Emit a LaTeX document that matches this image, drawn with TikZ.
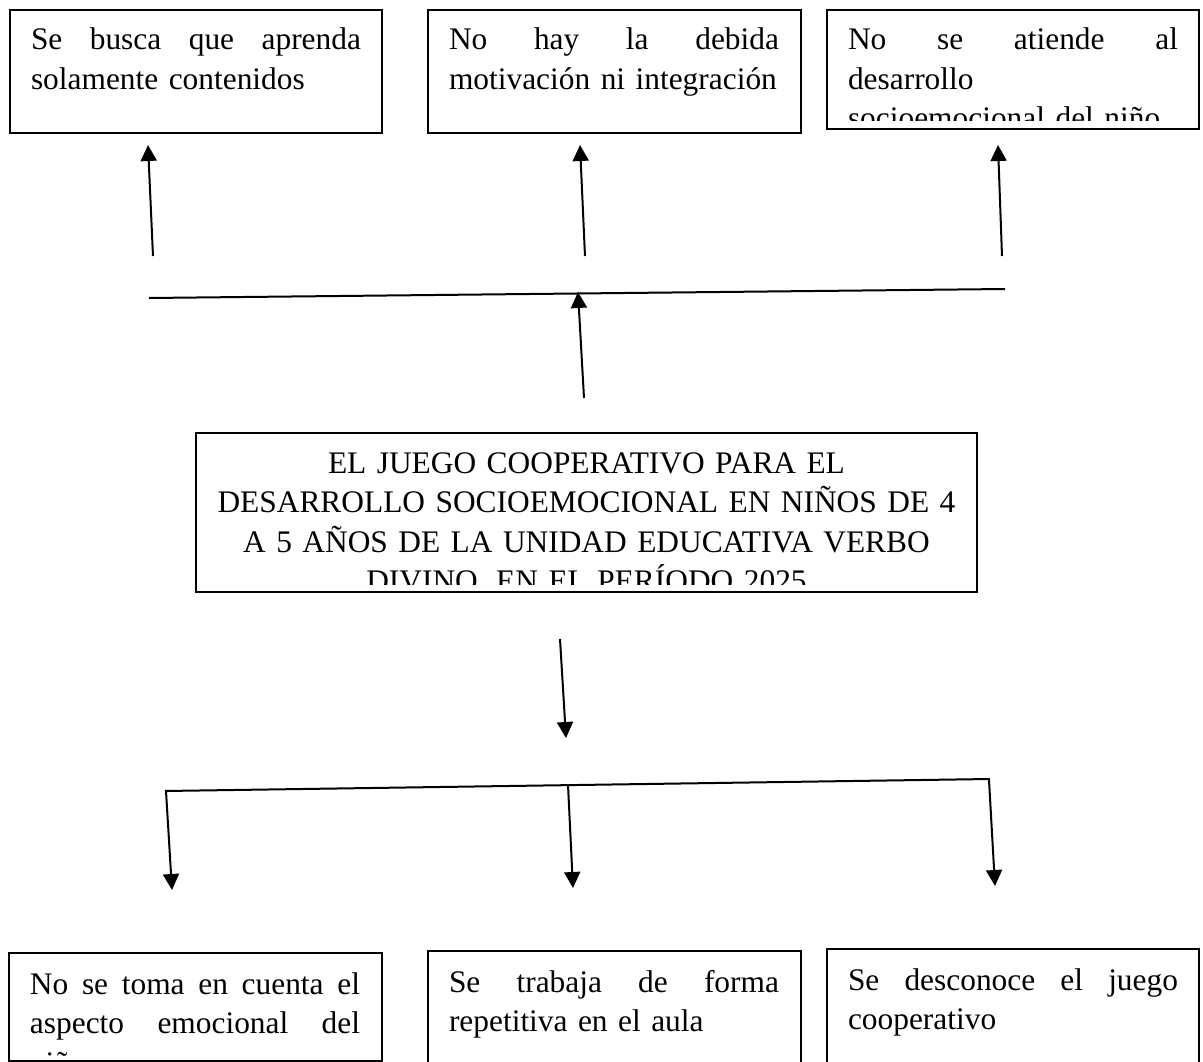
\documentclass[tikz,border=0pt]{standalone}
\usepackage{fontspec}
\setmainfont{Liberation Serif}
\usetikzlibrary{arrows.meta}

% one justified line of a box
\newcommand{\jl}[1]{\leavevmode\hbox to 330pt{\spaceskip=0.25em plus 1fil\relax #1}}

\begin{document}
\begin{tikzpicture}[
        x=1pt, y=-1pt,
        line width=2pt,
        box/.style={draw, rectangle, anchor=north west, inner sep=0pt,
                    minimum width=372pt, minimum height=123pt},
        txt/.style={anchor=base west, inner sep=0pt, text width=330pt, align=left,
                    font=\fontsize{31.4}{39.5}\selectfont},
        arr/.style={-{Triangle[width=16pt,length=16pt]}}
    ]

    \clip (0,0) rectangle (1203,1062);

    % effect boxes
    \node (e1) [box] at (9,9) {};
    \node (e2) [box, minimum width=373pt] at (427,9) {};
    \node (e3) [box, minimum height=119pt] at (826,9) {};

    % problem
    \node (title) [box, minimum width=781pt, minimum height=159pt] at (195,432) {};

    % cause boxes
    \node (c1) [box, minimum width=373pt, minimum height=108pt] at (8,952) {};
    \node (c2) [box, minimum width=373pt] at (427,950) {};
    \node (c3) [box] at (826,948) {};

    % texts, cut at the bottom of each box
    \begin{scope}
        \clip ([yshift=9pt]e1.south west) rectangle (e1.north east);
        \node (te1) [txt] at ([xshift=21pt,yshift=-41pt]e1.north west)
            {\jl{Se busca que aprenda}\\solamente contenidos};
    \end{scope}
    \begin{scope}
        \clip ([yshift=9pt]e2.south west) rectangle (e2.north east);
        \node (te2) [txt] at ([xshift=21pt,yshift=-41pt]e2.north west)
            {\jl{No hay la debida}\\motivación ni integración};
    \end{scope}
    \begin{scope}
        \clip ([yshift=9pt]e3.south west) rectangle (e3.north east);
        \node (te3) [txt] at ([xshift=21pt,yshift=-41pt]e3.north west)
            {\jl{No se atiende al}\\desarrollo\\socioemocional del niño};
    \end{scope}
    \begin{scope}
        \clip ([yshift=9pt]title.south west) rectangle (title.north east);
        \node (ttitle) [txt, anchor=base, text width=739pt, align=center]
            at ([yshift=-41pt]title.north)
            {EL JUEGO COOPERATIVO PARA EL\\DESARROLLO SOCIOEMOCIONAL EN NIÑOS DE 4\\
             A 5 AÑOS DE LA UNIDAD EDUCATIVA VERBO\\DIVINO, EN EL PERÍODO 2025};
    \end{scope}
    \begin{scope}
        \clip ([yshift=7pt]c1.south west) rectangle (c1.north east);
        \node (tc1) [txt] at ([xshift=21pt,yshift=-42pt]c1.north west)
            {\jl{No se toma en cuenta el}\\\jl{aspecto emocional del}\\niño};
    \end{scope}
    \node (tc2) [txt] at ([xshift=21pt,yshift=-42pt]c2.north west)
        {\jl{Se trabaja de forma}\\repetitiva en el aula};
    \node (tc3) [txt] at ([xshift=21pt,yshift=-42pt]c3.north west)
        {\jl{Se desconoce el juego}\\cooperativo};

    % upper tree
    \coordinate (ul) at (149,298);
    \coordinate (ur) at (1005,289);
    \coordinate (um) at (578,292);
    \foreach \n/\a/\b in {1/153/148, 2/585/580, 3/1002/998} {
        \coordinate (u\n) at (\a,256);
        \coordinate (ue\n) at (\b,145);
        \draw[arr] (u\n) -- (ue\n);
    }
    \draw (ul) -- (ur);
    \coordinate (up) at (584,398);
    \draw[arr] (up) -- (um);

    % lower tree
    \coordinate (down) at (560,639);
    \coordinate (downe) at (566,738);
    \draw[arr] (down) -- (downe);
    \coordinate (ll) at (165,791);
    \coordinate (lr) at (990,779);
    \draw (ll) -- (lr);
    \foreach \n/\a/\ay/\b/\by in {1/166/791/172/890, 2/568/785/573/888, 3/989/780/995/886} {
        \coordinate (l\n) at (\a,\ay);
        \coordinate (le\n) at (\b,\by);
        \draw[arr] (l\n) -- (le\n);
    }
\end{tikzpicture}
\end{document}
